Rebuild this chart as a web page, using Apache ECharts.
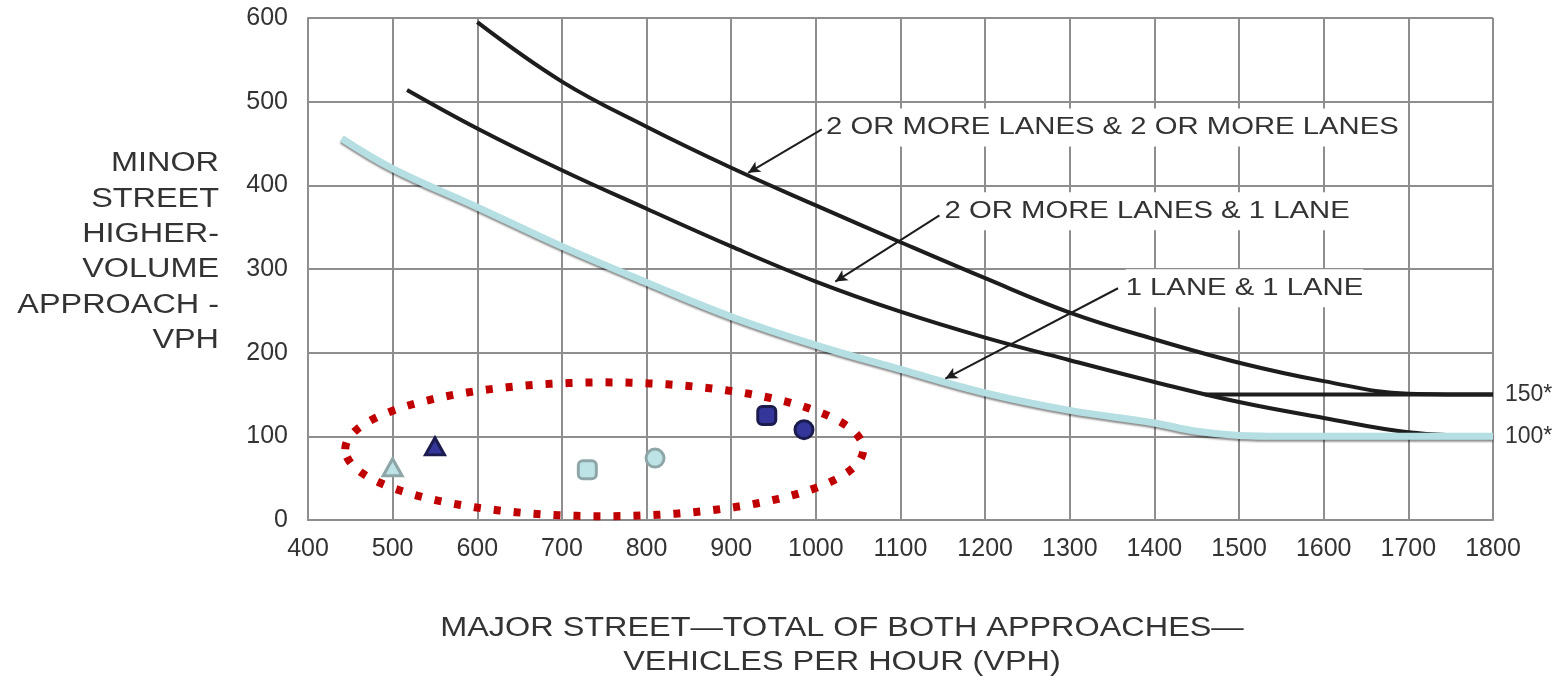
<!DOCTYPE html>
<html>
<head>
<meta charset="utf-8">
<script src="https://cdn.jsdelivr.net/npm/echarts@6/dist/echarts.min.js"></script>
<style>
  html, body { margin: 0; background: #fff; }
  #main { width: 1566px; height: 680px; }
</style>
</head>
<body>
<div id="main"></div>
<script>
// curves: [major street vph, minor street vph]
var curveTwoTwo = [[600, 595], [700, 524], [800, 470], [900, 421], [1000, 376], [1100, 332], [1200, 289], [1300, 248], [1400, 216], [1500, 188], [1600, 166], [1700, 151], [1800, 150]]
var curveTwoOne = [[517, 514], [600, 468], [700, 418], [800, 372], [900, 327], [1000, 285], [1100, 249], [1200, 218], [1300, 191], [1400, 165], [1500, 141], [1600, 122], [1700, 105], [1800, 100]]
var curveOneOne = [[440, 456], [500, 420], [600, 374], [700, 327], [800, 284], [900, 243], [1000, 209], [1100, 180], [1200, 152], [1300, 131], [1400, 116], [1450, 106], [1500, 101], [1550, 100], [1800, 100]]
var line150 = [[1460, 150], [1800, 150]]

// observed intersections
var lightPoints = [[500, 63], [730, 60], [810, 74]]
var lightShapes = ['triangle', 'roundRect', 'circle']
var darkPoints = [[550, 88], [942, 125], [986, 108]]
var darkShapes = ['triangle', 'roundRect', 'circle']

var curveNames = ['2 OR MORE LANES & 2 OR MORE LANES', '2 OR MORE LANES & 1 LANE', '1 LANE & 1 LANE']
var endNames = ['150*', '100*']

// annotation anchors (data units)
var labelAt = [[1012, 469], [1152, 369], [1366, 277]]
var arrowFrom = [[1007, 467], [1146, 364], [1357, 277]]
var arrowTo = [[920, 415], [1023, 285], [1153, 169]]
var ovalCenter = [750, 84.5]
var ovalRadius = [306, 80]

var FONT = '"Liberation Sans", Arial, Helvetica, sans-serif'
var INK = '#333'
var GRID = '#8e8e8e'

var chart = echarts.init(document.getElementById('main'))

function markers (points, shapes) {
  return points.map(function (p, i) {
    return { value: p, symbol: shapes[i], symbolSize: shapes[i] === 'triangle' ? [19, 17] : 18 }
  })
}

function plain (v) {
  return String(v)
}

var option = {
  animation: false,
  grid: { left: 308, right: 73, top: 18, bottom: 160 },
  xAxis: {
    type: 'value',
    min: 400,
    max: 1800,
    interval: 100,
    axisLine: { show: true, lineStyle: { color: GRID, width: 2 } },
    axisTick: { show: false },
    axisLabel: { margin: 17, fontSize: 25, color: INK, fontFamily: FONT, formatter: plain },
    splitLine: { show: true, lineStyle: { color: GRID, width: 2 } }
  },
  yAxis: {
    type: 'value',
    min: 0,
    max: 600,
    interval: 100,
    axisLine: { show: true, lineStyle: { color: GRID, width: 2 } },
    axisTick: { show: false },
    axisLabel: { margin: 20, fontSize: 25, color: INK, fontFamily: FONT, formatter: plain },
    splitLine: { show: true, lineStyle: { color: GRID, width: 2 } }
  },
  series: [
    {
      name: curveNames[0],
      type: 'line',
      data: curveTwoTwo,
      smooth: 0.4,
      showSymbol: false,
      lineStyle: { color: '#1d1d1d', width: 4 },
      endLabel: { show: true, formatter: endNames[0], fontSize: 23, color: INK, fontFamily: FONT, distance: 12 },
      markLine: {
        silent: true,
        symbol: ['none', 'arrow'],
        symbolSize: [9, 12],
        label: { show: false },
        lineStyle: { color: '#1d1d1d', width: 2, type: 'solid' },
        data: arrowFrom.map(function (a, i) {
          return [{ coord: a }, { coord: arrowTo[i] }]
        })
      },
      z: 3
    },
    {
      name: curveNames[1],
      type: 'line',
      data: curveTwoOne,
      smooth: 0.4,
      showSymbol: false,
      lineStyle: { color: '#1d1d1d', width: 4 },
      z: 3
    },
    {
      name: '150',
      type: 'line',
      data: line150,
      showSymbol: false,
      lineStyle: { color: '#1d1d1d', width: 4 },
      z: 3
    },
    {
      name: curveNames[2],
      type: 'line',
      data: curveOneOne,
      smooth: 0.4,
      showSymbol: false,
      lineStyle: {
        color: '#b5dfe2',
        width: 7,
        shadowColor: 'rgba(0,0,0,0.45)',
        shadowBlur: 2,
        shadowOffsetY: 2
      },
      endLabel: { show: true, formatter: endNames[1], fontSize: 23, color: INK, fontFamily: FONT, distance: 12 },
      z: 4
    },
    {
      name: 'light',
      type: 'scatter',
      data: markers(lightPoints, lightShapes),
      itemStyle: { color: '#bde3e6', borderColor: '#8ea6a8', borderWidth: 3, opacity: 1 },
      z: 6
    },
    {
      name: 'dark',
      type: 'scatter',
      data: markers(darkPoints, darkShapes),
      itemStyle: { color: '#34369a', borderColor: '#1b1b4e', borderWidth: 3, opacity: 1 },
      z: 6
    }
  ]
}
chart.setOption(option)

// annotations placed through the chart's own scale
var graphics = []

curveNames.forEach(function (name, i) {
  var p = chart.convertToPixel({ gridIndex: 0 }, labelAt[i])
  graphics.push({
    type: 'text',
    x: p[0],
    y: p[1],
    scaleX: 1.22,
    z: 10,
    style: {
      text: name,
      font: '24px ' + FONT,
      fill: INK,
      textAlign: 'left',
      textVerticalAlign: 'middle',
      backgroundColor: '#fff',
      padding: [8, 0, 6, 0]
    }
  })
})

// red dotted oval round the observed points
var c = chart.convertToPixel({ gridIndex: 0 }, ovalCenter)
var ex = chart.convertToPixel({ gridIndex: 0 }, [ovalCenter[0] + ovalRadius[0], ovalCenter[1] + ovalRadius[1]])
var rx = ex[0] - c[0]
var ry = c[1] - ex[1]
var pts = []
for (var k = 0; k < 180; k++) {
  var t = Math.PI + k / 180 * Math.PI * 2
  pts.push([c[0] + rx * Math.cos(t), c[1] + ry * Math.sin(t)])
}
graphics.push({
  type: 'polygon',
  z: 8,
  shape: { points: pts },
  style: { fill: null, stroke: '#c00000', lineWidth: 8, lineDash: [7, 13], lineCap: 'butt' }
})

// axis titles
graphics.push({
  type: 'text',
  x: 842,
  y: 612,
  scaleX: 1.2,
  style: {
    text: 'MAJOR STREET\u2014TOTAL OF BOTH APPROACHES\u2014\nVEHICLES PER HOUR (VPH)',
    font: '27px ' + FONT,
    fill: INK,
    textAlign: 'center',
    textVerticalAlign: 'top',
    lineHeight: 34
  }
})
graphics.push({
  type: 'text',
  x: 219,
  y: 146,
  scaleX: 1.2,
  style: {
    text: 'MINOR\nSTREET\nHIGHER-\nVOLUME\nAPPROACH -\nVPH',
    font: '27px ' + FONT,
    fill: INK,
    textAlign: 'right',
    textVerticalAlign: 'top',
    lineHeight: 35.4
  }
})

chart.setOption({ graphic: graphics })
</script>
</body>
</html>
